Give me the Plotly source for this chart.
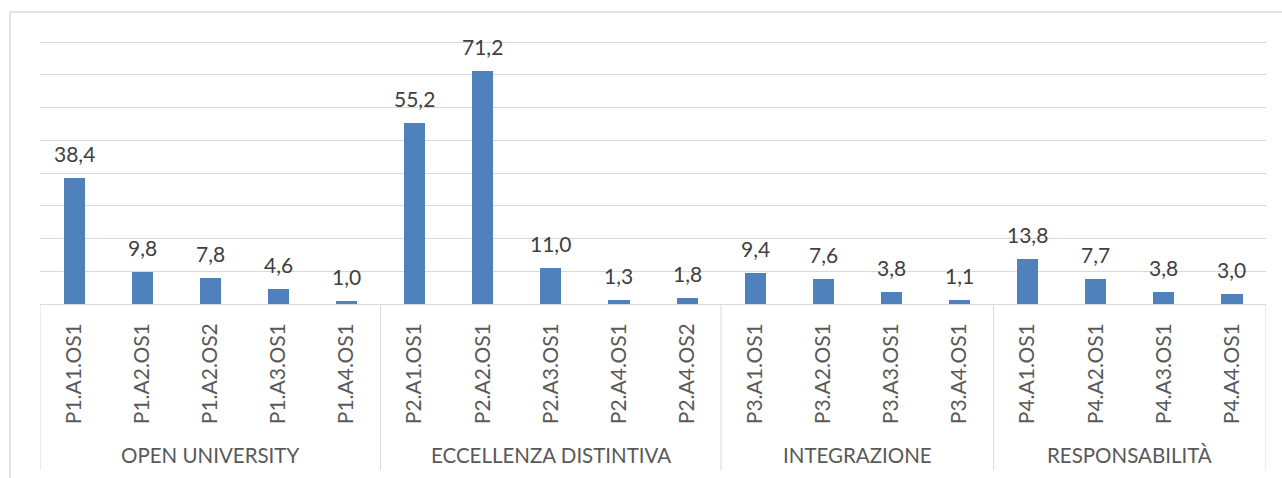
import plotly.graph_objects as go

categories = ["P1.A1.OS1", "P1.A2.OS1", "P1.A2.OS2", "P1.A3.OS1", "P1.A4.OS1",
              "P2.A1.OS1", "P2.A2.OS1", "P2.A3.OS1", "P2.A4.OS1", "P2.A4.OS2",
              "P3.A1.OS1", "P3.A2.OS1", "P3.A3.OS1", "P3.A4.OS1",
              "P4.A1.OS1", "P4.A2.OS1", "P4.A3.OS1", "P4.A4.OS1"]
values = [38.4, 9.8, 7.8, 4.6, 1.0,
          55.2, 71.2, 11.0, 1.3, 1.8,
          9.4, 7.6, 3.8, 1.1,
          13.8, 7.7, 3.8, 3.0]
group_names = ["OPEN UNIVERSITY", "ECCELLENZA DISTINTIVA", "INTEGRAZIONE", "RESPONSABILITÀ"]
group_sizes = [5, 5, 4, 4]
y_ticks = [0, 10, 20, 30, 40, 50, 60, 70, 80]

W, H = 1282, 478
ML, MR, MT, MB = 40, 16, 38, 174
plot_h = H - MT - MB
y_top = 80 * plot_h / 262.0  # keep 80 at the same pixel height as the reference
FONT = "Lato, 'Open Sans', sans-serif"

fig = go.Figure(go.Bar(
    x=categories, y=values,
    marker=dict(color="#4f81bd", line=dict(width=0)),
    width=0.31,
    hoverinfo="x+y",
))

shapes = []
annotations = []

# data labels
for c, v in zip(categories, values):
    annotations.append(dict(x=c, y=v, xref="x", yref="y", text=f"{v:.1f}".replace(".", ","),
                            showarrow=False, yanchor="bottom", yshift=10,
                            font=dict(family=FONT, size=21, color="#404040")))

start = 0
bottom = -(470 - (H - MB)) / plot_h
for name, n in zip(group_names, group_sizes):
    shapes.append(dict(type="line", xref="x", yref="paper", x0=start - 0.5, x1=start - 0.5,
                       y0=0, y1=bottom, line=dict(color="#d9d9d9", width=1)))
    annotations.append(dict(x=(start + start + n - 1) / 2, y=-(455 - (H - MB)) / plot_h,
                            xref="x", yref="paper", text=name, showarrow=False,
                            yanchor="middle", font=dict(family=FONT, size=20.5, color="#595959")))
    start += n
shapes.append(dict(type="line", xref="x", yref="paper", x0=start - 0.5, x1=start - 0.5,
                   y0=0, y1=bottom, line=dict(color="#d9d9d9", width=1)))

# outer chart frame (top and left)
fx = (10 - ML) / (W - ML - MR)
fy_top = (H - MB - 12) / plot_h
fy_bot = -(478 - (H - MB)) / plot_h
shapes.append(dict(type="line", xref="paper", yref="paper", x0=fx, x1=1.2, y0=fy_top, y1=fy_top,
                   line=dict(color="#d9d9d9", width=1.5)))
shapes.append(dict(type="line", xref="paper", yref="paper", x0=fx, x1=fx, y0=fy_top, y1=fy_bot,
                   line=dict(color="#d9d9d9", width=1.5)))

fig.update_layout(
    width=W, height=H,
    margin=dict(l=ML, r=MR, t=MT, b=MB),
    paper_bgcolor="white", plot_bgcolor="white",
    showlegend=False,
    bargap=0,
    shapes=shapes,
    annotations=annotations,
    xaxis=dict(type="category", tickangle=-90, showgrid=False, ticks="",
               ticklabelstandoff=14, automargin=False,
               tickfont=dict(family=FONT, size=21, color="#595959"),
               showline=False, zeroline=False, range=[-0.5, len(categories) - 0.5]),
    yaxis=dict(range=[0, y_top], tickvals=y_ticks,
               showticklabels=False, showgrid=True, automargin=False,
               gridcolor="#d9d9d9", gridwidth=1, zeroline=True, zerolinecolor="#d9d9d9",
               zerolinewidth=1, showline=False),
)

fig.write_html("out.html", post_script="document.body.style.margin='0';",
               config={"displayModeBar": False})
